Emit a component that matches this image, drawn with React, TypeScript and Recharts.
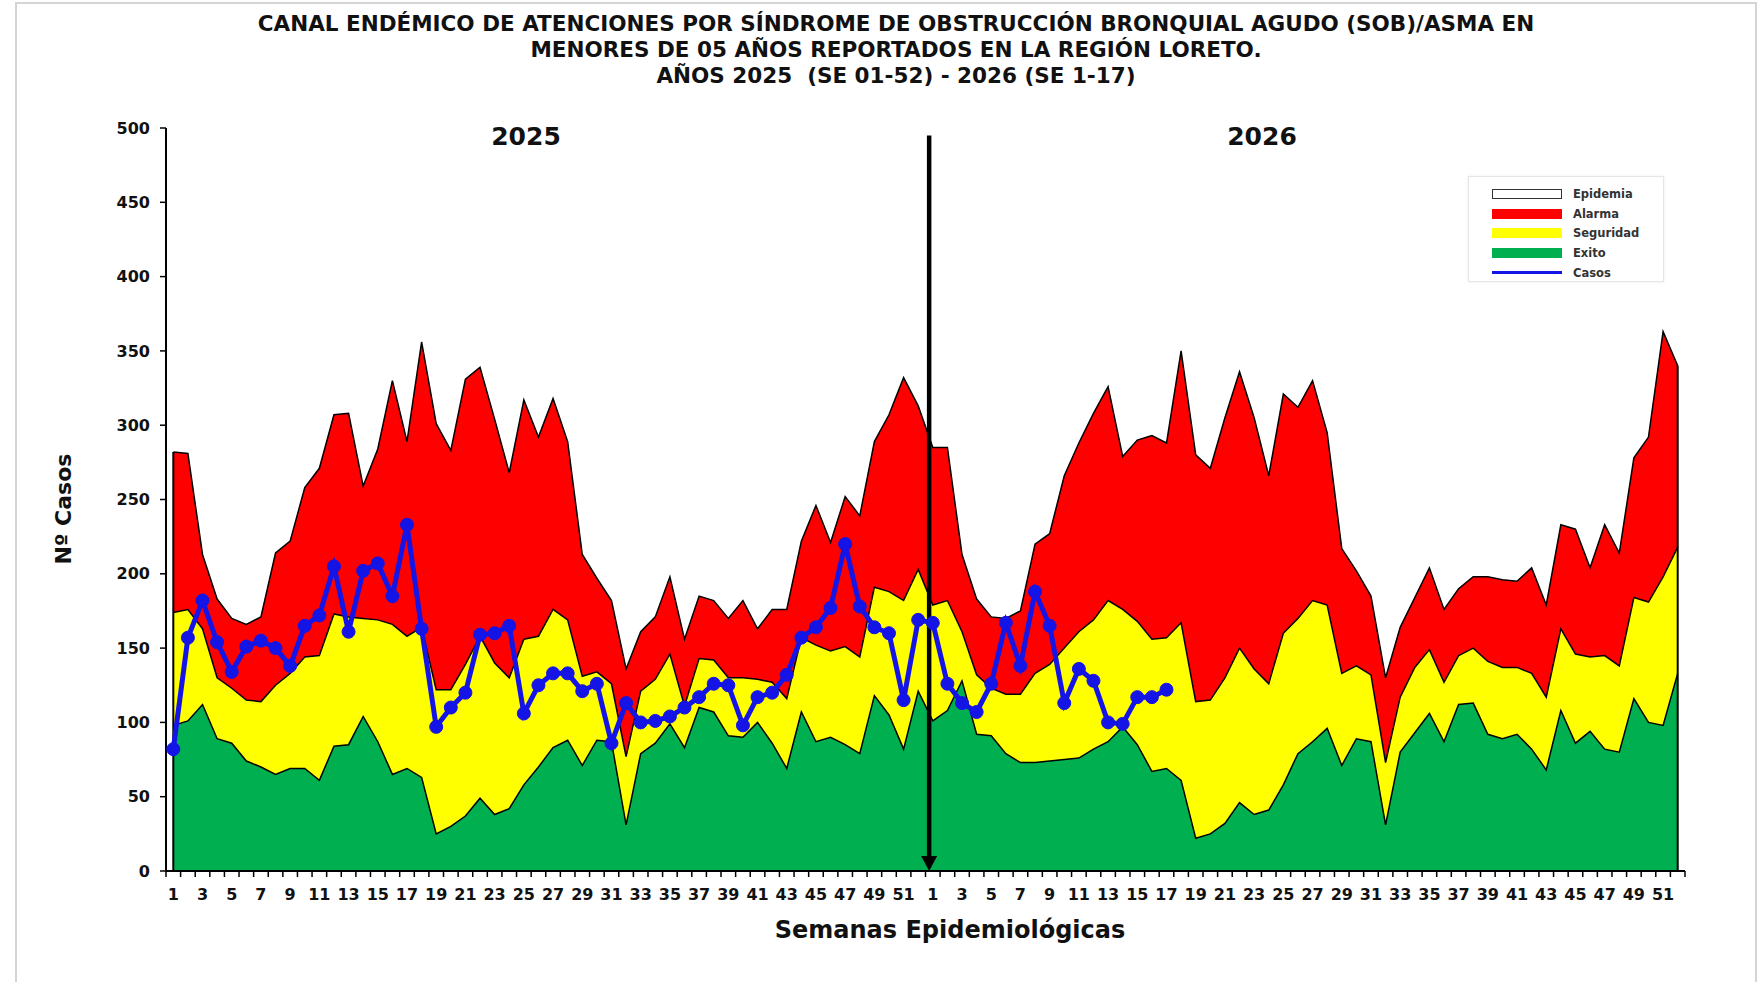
import React from "react";
import { ComposedChart, Area, Line, XAxis, YAxis, ReferenceLine } from "recharts";

// Canal endémico: upper limits of each zone per epidemiological week (SE 1-52)
const exito2025 = [98, 101, 112, 89, 86, 74, 70, 65, 69, 69, 61, 84, 85, 104, 87, 65, 69, 63, 25, 30, 37, 49, 38, 42, 58, 70, 83, 88, 71, 88, 87, 31, 79, 86, 99, 83, 110, 107, 91, 90, 100, 86, 69, 107, 87, 90, 85, 79, 118, 105, 82, 121];
const seguridad2025 = [174, 176, 163, 130, 123, 115, 114, 125, 133, 144, 145, 173, 171, 170, 169, 166, 158, 164, 122, 122, 139, 158, 140, 130, 156, 158, 176, 169, 131, 134, 126, 77, 121, 129, 146, 111, 143, 142, 130, 130, 129, 127, 116, 157, 152, 148, 151, 144, 191, 188, 182, 203];
const alarma2025 = [282, 281, 213, 183, 170, 166, 171, 214, 222, 258, 271, 307, 308, 259, 284, 330, 289, 356, 301, 283, 331, 339, 304, 268, 317, 292, 318, 289, 213, 197, 182, 136, 161, 171, 198, 156, 185, 182, 170, 182, 163, 176, 176, 222, 246, 221, 252, 239, 289, 307, 332, 313];
const casos2025 = [82, 157, 182, 154, 134, 151, 155, 150, 138, 165, 172, 205, 161, 202, 207, 185, 233, 163, 97, 110, 120, 159, 160, 165, 106, 125, 133, 133, 121, 126, 86, 113, 100, 101, 104, 110, 117, 126, 125, 98, 117, 120, 132, 157, 164, 177, 220, 178, 164, 160, 115, 169];

const exito2026 = [101, 108, 128, 92, 91, 79, 73, 73, 74, 75, 76, 82, 87, 97, 85, 67, 69, 61, 22, 25, 32, 46, 38, 41, 58, 79, 87, 96, 71, 89, 87, 31, 80, 93, 106, 87, 112, 113, 92, 89, 92, 82, 68, 108, 86, 94, 82, 80, 116, 100, 98, 133];
const seguridad2026 = [179, 182, 161, 132, 123, 119, 119, 133, 139, 150, 161, 169, 182, 176, 168, 156, 157, 167, 114, 115, 130, 150, 136, 126, 160, 170, 182, 179, 133, 138, 132, 73, 117, 137, 149, 127, 145, 150, 141, 137, 137, 133, 117, 163, 146, 144, 145, 138, 184, 181, 198, 218];
const alarma2026 = [285, 285, 213, 183, 171, 170, 175, 220, 227, 266, 288, 308, 326, 279, 290, 293, 288, 350, 280, 271, 305, 336, 305, 266, 321, 312, 330, 295, 217, 202, 185, 130, 164, 184, 204, 176, 190, 198, 198, 196, 195, 204, 179, 233, 230, 204, 233, 214, 278, 292, 363, 340];
const casos2026 = [167, 126, 113, 107, 126, 167, 138, 188, 165, 113, 136, 128, 100, 99, 117, 117, 122];

const yTicks = [0, 50, 100, 150, 200, 250, 300, 350, 400, 450, 500];
const WEEKS_PER_YEAR = 52;

const exito = [...exito2025, ...exito2026];
const seguridad = [...seguridad2025, ...seguridad2026];
const alarma = [...alarma2025, ...alarma2026];
const casos = [...casos2025, ...casos2026];

const data = exito.map((_, i) => ({
  idx: i + 1,
  week: (i % WEEKS_PER_YEAR) + 1,
  exito: exito[i],
  seguridad: seguridad[i],
  alarma: alarma[i],
  casos: casos[i] ?? null,
}));
const xTicks = data.map((d) => d.idx);
const LAST = data.length;
// year change drawn just before SE 1 of 2026
const YEAR_SPLIT = WEEKS_PER_YEAR + 0.75;

const W = 1762;
const H = 982;
const PLOT_W = 1519;
const BAND = PLOT_W / LAST;
const FONT = "'DejaVu Sans', sans-serif";

const GREEN = "#00b050";
const YELLOW = "#ffff00";
const RED = "#ff0000";
const BLUE = "#1414e6";

function WeekTick(props: any) {
  const { x, y, payload } = props;
  const n = payload.value as number;
  const week = ((n - 1) % WEEKS_PER_YEAR) + 1;
  const half = BAND / 2;
  return (
    <g>
      <line x1={x - half} x2={x - half} y1={y} y2={y + 6} stroke="#000" strokeWidth={1.5} />
      {n === LAST && (
        <line x1={x + half} x2={x + half} y1={y} y2={y + 6} stroke="#000" strokeWidth={1.5} />
      )}
      {week % 2 === 1 && (
        <text
          x={x}
          y={y + 29}
          textAnchor="middle"
          fontFamily={FONT}
          fontWeight="bold"
          fontSize={16}
          fill="#111"
        >
          {week}
        </text>
      )}
    </g>
  );
}

function ArrowShape(props: any) {
  const { x1, y1, x2, y2 } = props;
  if (x1 == null || y1 == null || y2 == null) return null;
  return (
    <g>
      <line x1={x1} y1={y1} x2={x2} y2={y2 - 12} stroke="#000" strokeWidth={4.5} />
      <polygon points={`${x2 - 8},${y2 - 15} ${x2 + 8},${y2 - 15} ${x2},${y2}`} fill="#000" />
    </g>
  );
}

const legendItems = [
  { label: "Epidemia", kind: "box", color: "#fff" },
  { label: "Alarma", kind: "fill", color: RED },
  { label: "Seguridad", kind: "fill", color: YELLOW },
  { label: "Exito", kind: "fill", color: GREEN },
  { label: "Casos", kind: "line", color: BLUE },
];

const titleLines = [
  "CANAL ENDÉMICO DE ATENCIONES POR SÍNDROME DE OBSTRUCCIÓN BRONQUIAL AGUDO (SOB)/ASMA EN",
  "MENORES DE 05 AÑOS REPORTADOS EN LA REGIÓN LORETO.",
  "AÑOS 2025  (SE 01-52) - 2026 (SE 1-17)",
];

export default function App() {
  return (
    <div
      style={{
        position: "absolute",
        left: 0,
        top: 0,
        width: W,
        height: H,
        background: "#fff",
        overflow: "hidden",
        fontFamily: FONT,
      }}
    >
      {/* page frame */}
      <div
        style={{
          position: "absolute",
          left: 15,
          top: 2,
          width: 1738,
          height: 1000,
          border: "2px solid #d4d4d4",
        }}
      />

      {titleLines.map((t, i) => (
        <div
          key={i}
          style={{
            position: "absolute",
            left: 196,
            width: 1400,
            top: 11 + i * 26,
            height: 26,
            lineHeight: "26px",
            textAlign: "center",
            fontWeight: "bold",
            fontSize: 21.5,
            color: "#111",
            whiteSpace: "pre",
          }}
        >
          {t}
        </div>
      ))}

      <div style={{ position: "absolute", left: 0, top: 0 }}>
        <ComposedChart
          width={W}
          height={H}
          data={data}
          margin={{ top: 128, right: 77, bottom: 81, left: 106 }}
        >
          <XAxis
            type="number"
            dataKey="idx"
            domain={[0.5, LAST + 0.5]}
            ticks={xTicks}
            interval={0}
            tickSize={0}
            tickMargin={0}
            tickLine={false}
            height={30}
            axisLine={{ stroke: "#000", strokeWidth: 2 }}
            tick={(p: any) => <WeekTick {...p} />}
          />
          <YAxis
            type="number"
            domain={[0, 500]}
            ticks={yTicks}
            interval={0}
            width={60}
            tickSize={6}
            tickMargin={10}
            axisLine={{ stroke: "#000", strokeWidth: 2 }}
            tickLine={{ stroke: "#000", strokeWidth: 1.5 }}
            tick={{ fill: "#111", fontSize: 16, fontWeight: "bold", fontFamily: FONT }}
          />
          <Area
            type="linear"
            dataKey="alarma"
            fill={RED}
            fillOpacity={1}
            stroke="#000"
            strokeWidth={1.5}
            isAnimationActive={false}
          />
          <Area
            type="linear"
            dataKey="seguridad"
            fill={YELLOW}
            fillOpacity={1}
            stroke="#000"
            strokeWidth={1.5}
            isAnimationActive={false}
          />
          <Area
            type="linear"
            dataKey="exito"
            fill={GREEN}
            fillOpacity={1}
            stroke="#000"
            strokeWidth={1.5}
            isAnimationActive={false}
          />
          <ReferenceLine
            segment={[{ x: 1, y: 0 }, { x: 1, y: alarma[0] }]}
            stroke="#000"
            strokeWidth={2}
          />
          <ReferenceLine
            segment={[{ x: LAST, y: 0 }, { x: LAST, y: alarma[LAST - 1] }]}
            stroke="#000"
            strokeWidth={2}
          />
          <Line
            type="linear"
            dataKey="casos"
            stroke={BLUE}
            strokeWidth={5}
            dot={{ r: 6.5, fill: BLUE, stroke: BLUE, strokeWidth: 1 }}
            isAnimationActive={false}
          />
          <ReferenceLine
            segment={[{ x: YEAR_SPLIT, y: 495 }, { x: YEAR_SPLIT, y: 0 }]}
            stroke="#000"
            strokeWidth={4}
            shape={(p: any) => <ArrowShape {...p} />}
          />
        </ComposedChart>
      </div>

      {/* year labels */}
      <div style={{ position: "absolute", left: 446, top: 121, width: 160, textAlign: "center", fontSize: 25, fontWeight: "bold", lineHeight: "32px", color: "#111" }}>
        2025
      </div>
      <div style={{ position: "absolute", left: 1182, top: 121, width: 160, textAlign: "center", fontSize: 25, fontWeight: "bold", lineHeight: "32px", color: "#111" }}>
        2026
      </div>

      {/* axis titles */}
      <div
        style={{
          position: "absolute",
          left: 64 - 100,
          top: 509 - 14,
          width: 200,
          height: 28,
          lineHeight: "28px",
          textAlign: "center",
          fontSize: 22,
          fontWeight: "bold",
          color: "#111",
          transform: "rotate(-90deg)",
        }}
      >
        Nº Casos
      </div>
      <div
        style={{
          position: "absolute",
          left: 950 - 300,
          top: 930 - 15,
          width: 600,
          height: 30,
          lineHeight: "30px",
          textAlign: "center",
          fontSize: 24,
          fontWeight: "bold",
          color: "#111",
        }}
      >
        Semanas Epidemiológicas
      </div>

      {/* legend */}
      <div
        style={{
          position: "absolute",
          left: 1468,
          top: 176,
          width: 194,
          height: 104,
          border: "1px solid #e6e6e6",
          boxShadow: "0 0 3px rgba(0,0,0,0.08)",
          background: "#fff",
        }}
      >
        {legendItems.map((it, i) => (
          <div
            key={it.label}
            style={{
              position: "absolute",
              left: 23,
              top: 8 + i * 19.7,
              height: 18,
              display: "flex",
              alignItems: "center",
            }}
          >
            <div
              style={{
                width: 70,
                height: it.kind === "line" ? 3 : 10,
                background: it.color,
                border: it.kind === "box" ? "1.5px solid #333" : "none",
                boxSizing: "border-box",
              }}
            />
            <span style={{ marginLeft: 11, fontSize: 11.5, fontWeight: "bold", color: "#333" }}>
              {it.label}
            </span>
          </div>
        ))}
      </div>
    </div>
  );
}
